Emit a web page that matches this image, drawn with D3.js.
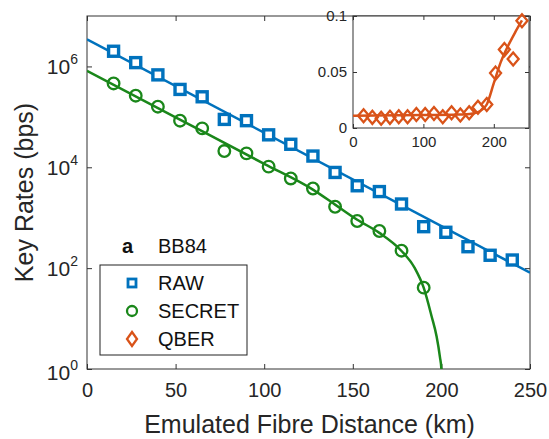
<!DOCTYPE html>
<html>
<head>
<meta charset="utf-8">
<script src="https://cdn.jsdelivr.net/npm/d3@7"></script>
<style>
  body { margin: 0; background: #fff; }
  svg { font-family: "Liberation Sans", Arial, sans-serif; }
</style>
</head>
<body>
<script>
var w = 549;
var h = 439;

// distances (km)
var rawDist = [15, 27.5, 40, 52.5, 65, 77.5, 90, 102.5, 115, 127.5, 140, 152.5, 165, 177.5, 190, 202.5, 215, 227.5, 240];
var secretDist = [15, 27.5, 40, 52.5, 65, 77.5, 90, 102.5, 115, 127.5, 140, 152.5, 165, 177.5, 190];

// key rates (bps)
var rawRate = [2.0e6, 1.19e6, 6.8e5, 3.5e5, 2.5e5, 8.9e4, 8.4e4, 4.4e4, 2.86e4, 1.67e4, 7.9e3, 4.3e3, 3.3e3, 1.87e3, 664, 514, 266, 180, 145];
var secretRate = [4.6e5, 2.63e5, 1.59e5, 8.4e4, 5.9e4, 2.1e4, 1.89e4, 1.03e4, 6.0e3, 3.8e3, 1.65e3, 861, 545, 222, 41];

// QBER (inset)
var qber = [0.011, 0.0095, 0.0087, 0.0095, 0.0101, 0.010, 0.012, 0.012, 0.013, 0.010, 0.0137, 0.0116, 0.0137, 0.0185, 0.021, 0.049, 0.070, 0.0616, 0.0958];

// fitted curves
var rawFitX = [0, 250];
var rawFitY = [3.44e6, 81];
var secretFitX = [0, 50, 100, 127.5, 140, 152.5, 165, 177.5, 185, 190, 194.5, 197.3, 199.2, 200, 200.3];
var secretFitY = [8.2e5, 9.8e4, 1.17e4, 3.6e3, 1.82e3, 912, 500, 219, 100, 41, 11, 4.4, 1.7, 1.0, 0.4];
var qberFitX = [0, 100, 150, 170, 180, 190, 200, 210, 220, 230, 240];
var qberFitY = [0.011, 0.0115, 0.012, 0.013, 0.015, 0.021, 0.040, 0.059, 0.073, 0.085, 0.096];

var xTicks = [0, 50, 100, 150, 200, 250];
var yTicks = [0, 2, 4, 6];
var insetXTicks = [0, 100, 200];
var insetYTicks = [0, 0.05, 0.1];
var insetYLabels = ["0", "0.05", "0.1"];

var blue = "#0072BD";
var green = "#1A871A";
var orange = "#D95319";
var axisColor = "#333";

var m = {left: 87, right: 530, top: 16, bottom: 369};

var xScale = d3.scaleLinear().domain([0, 250]).range([m.left, m.right]);
var yScale = d3.scaleLog().domain([1, 1e7]).range([m.bottom, m.top]);

var svg = d3.select("body").append("svg")
  .attr("width", w)
  .attr("height", h);

svg.append("clipPath").attr("id", "clip")
  .append("rect")
  .attr("x", m.left).attr("y", m.top)
  .attr("width", m.right - m.left).attr("height", m.bottom - m.top);

// box
svg.append("rect")
  .attr("x", m.left).attr("y", m.top)
  .attr("width", m.right - m.left).attr("height", m.bottom - m.top)
  .attr("fill", "none").attr("stroke", axisColor).attr("stroke-width", 1);

function styleAxis(g) {
  g.select(".domain").remove();
  g.selectAll(".tick line").attr("stroke", axisColor);
  g.selectAll(".tick text").attr("fill", "#262626");
}

// x axes (bottom with labels, top ticks only)
svg.append("g")
  .attr("transform", "translate(0," + m.bottom + ")")
  .call(d3.axisBottom(xScale).tickValues(xTicks).tickSizeInner(-5).tickSizeOuter(0).tickPadding(14))
  .call(styleAxis)
  .selectAll("text").attr("font-size", 20);

svg.append("g")
  .attr("transform", "translate(0," + m.top + ")")
  .call(d3.axisTop(xScale).tickValues(xTicks).tickSizeInner(-5).tickSizeOuter(0).tickFormat(""))
  .call(styleAxis);

// y axes
var yTickVals = yTicks.map(function(d) { return Math.pow(10, d); });
svg.append("g")
  .attr("transform", "translate(" + m.left + ",0)")
  .call(d3.axisLeft(yScale).tickValues(yTickVals).tickSizeInner(-5).tickSizeOuter(0).tickFormat(""))
  .call(styleAxis);
svg.append("g")
  .attr("transform", "translate(" + m.right + ",0)")
  .call(d3.axisRight(yScale).tickValues(yTickVals).tickSizeInner(-5).tickSizeOuter(0).tickFormat(""))
  .call(styleAxis);

// y tick labels 10^n
var yLab = svg.selectAll(".ylab")
  .data(yTicks)
  .enter()
  .append("text")
  .attr("class", "ylab")
  .attr("x", m.left - 9)
  .attr("y", function(d) { return yScale(Math.pow(10, d)) + (d == 0 ? 11 : 8); })
  .attr("text-anchor", "end")
  .attr("fill", "#262626")
  .attr("font-size", 21);
yLab.append("tspan").text("10");
yLab.append("tspan").attr("font-size", 14).attr("dy", -10).text(function(d) { return d; });

// axis titles
svg.append("text")
  .attr("x", (m.left + m.right) / 2 + 1)
  .attr("y", 433)
  .attr("text-anchor", "middle")
  .attr("fill", "#262626")
  .attr("font-size", 25)
  .text("Emulated Fibre Distance (km)");

svg.append("text")
  .attr("transform", "translate(33," + ((m.top + m.bottom) / 2) + ") rotate(-90)")
  .attr("text-anchor", "middle")
  .attr("fill", "#262626")
  .attr("font-size", 25)
  .text("Key Rates (bps)");

// fit lines
var plot = svg.append("g").attr("clip-path", "url(#clip)");

var fitLine = d3.line()
  .x(function(d) { return xScale(d[0]); })
  .y(function(d) { return yScale(d[1]); })
  .curve(d3.curveMonotoneX);

plot.append("path")
  .datum(d3.zip(rawFitX, rawFitY))
  .attr("d", fitLine)
  .attr("fill", "none").attr("stroke", blue).attr("stroke-width", 2.5);

plot.append("path")
  .datum(d3.zip(secretFitX, secretFitY))
  .attr("d", fitLine)
  .attr("fill", "none").attr("stroke", green).attr("stroke-width", 2.5);

// markers
var sq = 10;
plot.selectAll(".raw")
  .data(d3.zip(rawDist, rawRate))
  .enter()
  .append("rect")
  .attr("class", "raw")
  .attr("x", function(d) { return xScale(d[0]) - sq / 2; })
  .attr("y", function(d) { return yScale(d[1]) - sq / 2; })
  .attr("width", sq).attr("height", sq)
  .attr("fill", "#fff").attr("stroke", blue).attr("stroke-width", 3.4);

plot.selectAll(".secret")
  .data(d3.zip(secretDist, secretRate))
  .enter()
  .append("circle")
  .attr("class", "secret")
  .attr("cx", function(d) { return xScale(d[0]); })
  .attr("cy", function(d) { return yScale(d[1]); })
  .attr("r", 5.8)
  .attr("fill", "none").attr("stroke", green).attr("stroke-width", 2.3);

// legend
svg.append("text").attr("x", 122).attr("y", 253)
  .attr("font-size", 20).attr("font-weight", "bold").attr("fill", "#111").text("a");
svg.append("text").attr("x", 158).attr("y", 253)
  .attr("font-size", 20).attr("fill", "#111").text("BB84");

svg.append("rect")
  .attr("x", 100).attr("y", 265).attr("width", 147).attr("height", 90)
  .attr("fill", "#fff").attr("stroke", "#222").attr("stroke-width", 1);

var legendNames = ["RAW", "SECRET", "QBER"];
var legendY = [283, 311, 339];
legendNames.forEach(function(name, i) {
  var cy = legendY[i];
  if (i == 0) {
    svg.append("rect").attr("x", 128).attr("y", cy - 4).attr("width", 8).attr("height", 8)
      .attr("fill", "#fff").attr("stroke", blue).attr("stroke-width", 2.8);
  } else if (i == 1) {
    svg.append("circle").attr("cx", 132).attr("cy", cy).attr("r", 5)
      .attr("fill", "none").attr("stroke", green).attr("stroke-width", 2.3);
  } else {
    svg.append("path").attr("d", "M132," + (cy - 7) + "L137," + cy + "L132," + (cy + 7) + "L127," + cy + "Z")
      .attr("fill", "none").attr("stroke", orange).attr("stroke-width", 2.3);
  }
  svg.append("text").attr("x", 158).attr("y", cy + 7)
    .attr("font-size", 20).attr("fill", "#111").text(name);
});

// inset
var im = {left: 353, right: 529, top: 16, bottom: 128};
var ix = d3.scaleLinear().domain([0, 250]).range([im.left, im.right]);
var iy = d3.scaleLinear().domain([0, 0.1]).range([im.bottom, im.top]);

var inset = svg.append("g");
inset.append("rect")
  .attr("x", im.left).attr("y", im.top)
  .attr("width", im.right - im.left).attr("height", im.bottom - im.top)
  .attr("fill", "#fff").attr("stroke", axisColor).attr("stroke-width", 1);

inset.append("g")
  .attr("transform", "translate(0," + im.bottom + ")")
  .call(d3.axisBottom(ix).tickValues(insetXTicks).tickSizeInner(-4).tickSizeOuter(0).tickPadding(8))
  .call(styleAxis)
  .selectAll("text").attr("font-size", 15);
inset.append("g")
  .attr("transform", "translate(0," + im.top + ")")
  .call(d3.axisTop(ix).tickValues(insetXTicks).tickSizeInner(-4).tickSizeOuter(0).tickFormat(""))
  .call(styleAxis);
inset.append("g")
  .attr("transform", "translate(" + im.left + ",0)")
  .call(d3.axisLeft(iy).tickValues(insetYTicks).tickSizeInner(-4).tickSizeOuter(0).tickPadding(6)
    .tickFormat(function(d, i) { return insetYLabels[i]; }))
  .call(styleAxis)
  .selectAll("text").attr("font-size", 15);
inset.append("g")
  .attr("transform", "translate(" + im.right + ",0)")
  .call(d3.axisRight(iy).tickValues(insetYTicks).tickSizeInner(-4).tickSizeOuter(0).tickFormat(""))
  .call(styleAxis);

var qLine = d3.line()
  .x(function(d) { return ix(d[0]); })
  .y(function(d) { return iy(d[1]); })
  .curve(d3.curveMonotoneX);

inset.append("path")
  .datum(d3.zip(qberFitX, qberFitY))
  .attr("d", qLine)
  .attr("fill", "none").attr("stroke", orange).attr("stroke-width", 2.5);

inset.selectAll(".qber")
  .data(d3.zip(rawDist, qber))
  .enter()
  .append("path")
  .attr("class", "qber")
  .attr("d", function(d) {
    var cx = ix(d[0]), cy = iy(d[1]);
    return "M" + cx + "," + (cy - 6.5) + "L" + (cx + 5.5) + "," + cy + "L" + cx + "," + (cy + 6.5) + "L" + (cx - 5.5) + "," + cy + "Z";
  })
  .attr("fill", "none").attr("stroke", orange).attr("stroke-width", 2.3);
</script>
</body>
</html>
